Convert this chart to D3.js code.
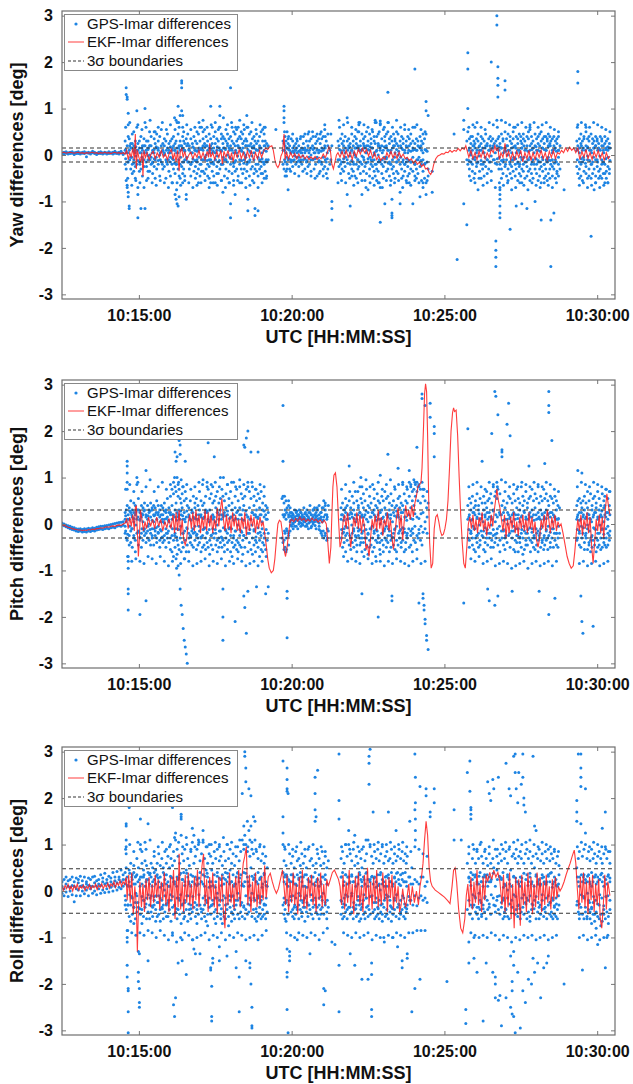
<!DOCTYPE html>
<html>
<head>
<meta charset="utf-8">
<script src="https://cdn.jsdelivr.net/npm/d3@7"></script>
<style>
  body { margin: 0; background: #fff; }
  svg { display: block; }
</style>
</head>
<body>
<svg id="chart"></svg>
<script>
// time is seconds after 10:00:00 UTC
const timeTicks = [900, 1200, 1500, 1800];
const timeLabels = ["10:15:00", "10:20:00", "10:25:00", "10:30:00"];
const yTicks = [-3, -2, -1, 0, 1, 2, 3];
const axisLabels = ["Yaw differences [deg]", "Pitch differences [deg]", "Roll differences [deg]"];
const legendLabels = ["GPS-Imar differences", "EKF-Imar differences", "3σ boundaries"];
const sigmaBounds = [0.15, 0.3, 0.48];

// GPS-Imar: each entry is [time, value, value, ...]
const gpsYaw = [
[749,.05,.03],[753,.06,.02],[757,.04,.07],[761,.05,.02],[765,.06,.03],[769,.04,.07],[773,.05,.01],[777,.06,.03],[781,.03,.07],[785,.05,.02],[789,.06,.04],[793,.03,.07],[797,.05,-.04],[801,.04,.06],[805,.02,.05],[809,.05,.08],[813,.03,.06],[817,.04,.01],[821,.06,.03],[825,.03,.07],[829,.05,.02],[833,.04,.06],[837,.05,.02],[841,.03,.07],[845,.05,.04],[849,.06,.02],[853,.04,.08],[857,.05,.03],[861,.02,.06],[865,.05,.08],[869,.04,.01],
[873,.3,-.2,.1],[875,1.45,1.3,-.55,.05,-.3],[877,1.25,1.2,-.65,-.7,.2],[879,.9,.65,-.8,-.9,-.15,.4],[881,-1.1,-1.15,.35,.1],[884,.15,-.3,-.05,.25],[887,.25,-.2,.45,-.4],[890,-.35,.1,-.1,.2],[893,.3,-.25,.05,-.5],[896,.95,.6,.1,-.2],[898,-1.35,-.85,-.7,.25],[901,.15,-.15,.3,-.35],[904,-1.15,.05,-.3,.4],[907,.2,-.1,-.45,.1],[910,.35,-.25,.05],[912,1.0,.7,-1.15,.2],[915,.05,-.25,-.55,.3],[918,.3,-.1,.15,-.35],[921,.5,-.35,0,.2],[924,-.2,.2,.4,-.05],[927,.1,-.4,-.15],[930,.35,.05,-.25],[932,.5,-.1,.25,-.5],[935,.15,-.3,.45],[938,-.2,.1,.3],[941,.4,-.45,0],[944,.2,-.15,.55],[947,-.3,.1,.25],[950,.05,-.25,.35],[953,.3,-.5,-.1],[956,-.2,.15,.45],[959,.1,-.35,.25],[962,-.15,.3,-.45,.05],[965,.35,-.2,.1,-.6],[968,.4,-.3,.2,-.1],[971,.55,.25,-.85,-.4,.1],[973,.75,-.95,.3,-.2],[975,.7,-1.05,-.6,.15],[977,1.05,.45,-1.1,-.3,.05],[979,.6,-.9,.2,-.45],[981,.85,.3,-.5,.1,-.2],[984,1.6,1.55,1.45,.95,-.25,.2],[986,.85,.4,-.4,.15,-.6],[988,.5,-.15,.3,-.3],[990,.25,-.45,.1],[993,-.85,-.95,.35,-.1],[996,-.15,.25,.45],[999,.1,-.3,.2],[1002,.35,-.2,-.45],[1005,.05,.25,-.15],[1008,.4,-.35,.15],[1011,.3,-.25,-.5,.1],[1014,.25,.5,-.1,-.4],[1017,.45,-.3,.1,-.6],[1020,.3,-.2,.6,-.45],[1023,.6,-.35,.15,-.1],[1026,.35,-.35,.2,.5],[1029,.55,-.1,-.4,.25],[1032,.2,-.3,.4,0],[1035,.3,-.45,.1,-.2],[1038,.45,-.25,.15,-.5],[1041,1.05,.2,-.6,.35,-.1],[1044,.6,-.35,.25,.05],[1047,.4,-.2,.15,-.45],[1050,.25,-.6,.5,-.1],[1053,.35,-.25,.1,-.4],[1056,.3,-.15,.55,-.4],[1059,1.05,.85,.6,-.3,.1],[1062,.45,.1,-.55,.35,-.2],[1065,.4,-.2,-.8,.25],[1068,.35,-.45,.15,-.1],[1071,.55,-.1,.3,-.3],[1074,.25,-.5,.45,0],[1077,.15,-.35,.35,-.6],[1080,1.45,.4,-1.05,-1.35,-.2,.2],[1083,.6,.3,-.4,.1],[1086,.25,-.25,.5,-.55],[1089,.45,-.15,-.85,.2,-.35],[1092,.3,.55,-.3,.05],[1095,.6,.2,-.45,.35],[1098,.15,-.2,.4,-.6],[1101,.35,-.3,.5,.1],[1104,.25,-.4,.15,.45],[1107,.55,-.1,-.3,.3],[1110,.2,-.5,.35,0],[1112,.85,.3,-.2,.6,-.35],[1114,-1.2,-.95,.2,-.15],[1117,.45,-.15,.2,-.45],[1120,.25,-.3,.5,.05],[1123,.35,-.25,.15,-.55],[1126,.2,-.4,.4,.05],[1128,-1.15,-1.3,.3,-.3],[1131,.25,-.35,.1,.45],[1134,-1.2,.3,-.2,-.45],[1137,.4,-.1,.2,-.3],[1140,.5,-.25,.15,-.4],[1143,.55,-.4,.3,-.15],[1146,.45,-.2,.1,-.5],[1148,.6,-.35,.2,.3],[1151,.25,-.15,-.45],[1154,.2,-.1],
[1169,.55],[1183,.3,-.2,.1],[1185,1.05,.95,.8,.7,.25,-.3],[1187,.4,-.15,.2,-.45],[1189,.3,-.35,.05],[1191,.5,-.2,.15,-.3],[1193,-.75,.25,-.1,.35],[1196,.2,-.3,.1],[1199,.35,-.15,.05],[1202,.15,-.25,.3],[1205,-.1,.2,.05],[1208,.25,-.2,.1],[1211,.05,-.15,.3],[1214,.2,-.05,-.25],[1217,.1,.35,-.15],[1220,-.2,.15,.05],[1223,.25,-.1,.4],[1226,.05,-.3,.15],[1229,.3,-.15,.1],[1232,-.25,.2,.45],[1235,.1,-.2,.3],[1238,.35,-.35,0],[1241,.2,-.1,.5],[1244,-.3,.15,.05],[1247,.4,-.2,.25],[1250,.1,-.45,.3],[1253,.35,-.15,.05],[1256,.25,-.35,.45],[1259,.15,-.2,.35],[1262,.4,-.3,.1],[1265,.65,.55,-.25,.2],[1268,.3,-.15,-.4],[1271,.2,-.3,.45],[1275,.1,-.2],[1277,.45,-.1],[1279,-1.0,-1.15,-1.4,.2],
[1291,-.6,.3,-.1],[1293,.75,.2,-.25],[1296,.35,-.2,.1,-.4],[1299,.25,-.3,.45],[1302,.1,-.15,.3,-.35],[1305,.4,-.25,.05],[1309,.8,-.85,.3,-.1],[1312,.2,-.4,.15,.35],[1315,-1.1,.25,-.2,.05],[1318,.45,-.3,.1,-.45],[1321,.3,-.15,.2,-.35],[1324,.15,-.45,.4,0],[1327,.35,-.2,.25,-.5],[1330,.5,-.1,.15,-.3],[1332,.65,.5,.7,-.25,.1],[1335,.3,-.4,.2,-.15],[1338,-.85,.45,-.2,.1],[1341,.25,-.35,.35,-.05],[1344,.4,-.25,.15,-.55],[1347,.2,-.4,.5,.05],[1350,-.75,.3,-.15,.2],[1353,.45,-.3,.1,-.45],[1356,.35,-.2,.25,-.1],[1359,.5,-.5,.15,-.25],[1362,.3,-.35,.4,0],[1364,.75,.7,-.2,.25,-.45],[1367,.4,-.3,.1,-.55],[1370,.25,-.15,.45,-.35],[1372,.5,-.6,.2,-.1],[1374,.73,.68,-1.45,-.7,.15],[1377,.35,-.4,.2,-.2],[1380,.55,-.25,.1,-.5],[1383,-1.05,.3,-.15,.4],[1386,.45,-.35,.2,-.05],[1389,1.35,.7,.5,-.3,.1],[1392,.35,-.45,.25,-.15],[1395,.4,-.2,.1,-.55],[1397,-1.25,-1.3,-1.35,-.95,.3,-.3],[1400,.45,-.25,.2,-.4],[1403,.3,-.5,.05,.35],[1406,.5,-.15,.25,-.35],[1409,.2,-.4,.45,0],[1413,-.8,-1.05,.3,-.2],[1416,.4,-.3,.15,-.5],[1419,.25,-.45,.35,-.1],[1422,.55,-.2,.1,-.35],[1425,.3,-.55,.2,-.15],[1428,.4,-.25,.05,-.45],[1431,.35,-.4,.2,-.6],[1434,.25,-.3,.45,-.15],[1438,-1.05,.3,-.35,.1],[1442,1.85,.6,-.2,.25,-.45],[1445,.35,-.5,.1,-.3],[1448,.2,-.4,.3,-.1],[1452,-.9,.4,-.25,.15],[1455,.3,-.55,.1,-.2],[1458,.25,-.35,.45,-.6],[1461,.35,-.2,-.5],[1464,1.15,.95,.45,-.85,-.6,.1],[1468,.85,-.3,-.45],[1476,-.8,-.35],
[1519,.45],[1525,-2.25],[1538,.55,.75,-1.05],
[1544,-1.5,.3,-.1],[1546,2.2,1.85,1.0,.5,-.2],[1549,.35,-.3,.15,-.45],[1552,.25,-.15,.4,0],[1555,.4,-.35,.1,-.2],[1558,.3,-.5,.2],[1560,.6,-.1,.25,-.4],[1563,.35,-.25,.05],[1566,-.75,.3,-.15,.45],[1569,.2,-.35,.1],[1572,.4,-.2,.25,-.5],[1575,.15,-.3,.35],[1578,.3,-.45,.05,-.15],[1581,.45,-.25,.2],[1584,.25,-.1,-.4],[1587,.35,-.3,.1],[1590,.2,-.15,.4],[1592,2.0,.3,-.35],[1595,.15,.35],[1598,.25,-.1],[1601,-1.85,-2.05,-2.2,-2.4,.3],[1603,3.0,2.8,.75,.2,-.2],[1605,1.9,1.65,1.5,1.25,.35],[1607,.4,.1,-.3],[1609,-.75,-.85,-1.1,-1.25,-1.35,-.95,-.7,.25,-.2],[1612,.45,-.3,.15,-.5],[1615,.3,-.15,.35,-.4],[1619,1.6,1.4,.5,-.25,.1],[1622,.35,-.45,.2,-.1],[1625,.45,-.3,.1,-.55],[1629,-1.6,.3,-.2,.4,-.4],[1632,.25,-.5,.15,-.25],[1635,.5,-.35,.35,-.1],[1639,.6,-.2,.2,-.45],[1641,-1.1,.4,-.3,.05],[1644,.35,-.55,.25,-.15],[1647,.45,-.25,.1,-.4],[1650,.3,-.45,.4,-.05],[1652,-1.05,.25,-.3,.15,-.6],[1655,.45,-.2,.35,-.35],[1658,.3,-.5,.1,-.15],[1662,-1.15,.4,-.25,.2,-.45],[1665,.35,-.35,.5,-.1],[1668,.6,.55,-.3,.1,-.55],[1671,.4,-.2,.25,-.4],[1674,.3,-.5,.15,-.1],[1678,-1.0,.45,-.3,.2],[1681,.35,-.4,.1,-.2],[1684,.25,-.55,.4,-.15],[1687,.45,-.3,.2,-.45],[1690,.5,-1.4,.3,-.25,-.6],[1693,.35,-.35,.15,-.1],[1696,.25,-.5,.4,-.2],[1699,.4,-.3,.1,-.45],[1702,.3,-.15,.35,-.55],[1704,.45,-.4,.2,-.1],[1707,.25,-.3,.4,-.5],[1709,-2.4,-1.4,.3,-.2],[1712,.35,-.45,.1,-.25],[1715,-1.25,.4,-.3,.2],[1718,.3,-.5,.15,-.1],[1721,.25,-.35,.35,-.4],[1724,.4,-.2,.1,-.45],[1727,.2,-.3],[1735,-.75],
[1760,.3,-.25,.1],[1762,1.8,1.55,.65,-.4,.2],[1765,.35,-.3,.15,-.5],[1768,.45,-.2,.25,-.45],[1771,.3,-.55,.1,-.15],[1774,.4,-.35,.35,-.1],[1778,.6,.5,-.4,.2,-.25],[1781,.35,-.5,.15,-.1],[1784,.3,-.3,.4,-.45],[1788,.45,-1.75,-.2,.1,-.5],[1791,.35,-.4,.25,-.15],[1794,-.75,.3,-.3,.15],[1797,.4,-.45,.2,-.6],[1800,.3,-.25,.35,-.1],[1803,.25,-.5,.15,-.35],[1806,.4,-.3,.1,-.45],[1809,.35,-.2,.3,-.5],[1812,.2,-.4,.1,-.15],[1815,.4,-.6,-.4,.25,-.2],[1818,.3,-.35,.15,-.5],[1821,.35,-.25,.1,-.6],[1824,.25,-.3,.15,-.4]
];

// extra GPS-Imar samples in the dense band near zero
const gpsYawCore = [
[874,.12,-.08,.6],[878,-.15,.05,-.5],[882,.2,-.1,.7],[886,-.05,.15,-.65],[890,.08,-.18,.5],[894,.18,-.02,-.55],[898,-.12,.1,.65],[902,.05,-.2,-.6],[906,.15,-.05,.55],[910,-.1,.2,-.7],[914,.1,-.15,.6],[918,-.02,.12,-.5],[922,.2,-.1,.75],[926,-.18,.05,-.6],[930,.12,-.08,.5],[934,-.05,.18,-.65],[938,.15,-.12,.6],[942,-.1,.05,-.55],[946,.08,-.2,.7],[950,.2,0,-.6],[954,-.15,.1,.55],[958,.05,-.1,-.7],[962,.18,-.05,.65],[966,-.08,.15,-.6],[970,.1,-.18,.8],[974,-.2,.05,-.75],[978,.15,-.1,.7],[982,-.05,.2,-.65],[986,.12,-.15,.6],[990,-.1,.08,-.55],[994,.2,-.05,.65],[998,-.15,.12,-.6],[1002,.05,-.2,.55],[1006,.18,-.08,-.7],[1010,-.12,.1,.6],[1014,.08,-.15,-.65],[1018,.15,-.05,.7],[1022,-.2,.12,-.6],[1026,.1,-.1,.75],[1030,-.05,.18,-.55],[1034,.2,-.12,.6],[1038,-.1,.05,-.7],[1042,.12,-.18,.65],[1046,-.15,.08,-.6],[1050,.05,-.1,.7],[1054,.18,-.02,-.65],[1058,-.12,.15,.6],[1062,.08,-.2,-.55],[1066,.15,-.05,.8],[1070,-.1,.12,-.7],[1074,.2,-.15,.65],[1078,-.05,.1,-.6],[1082,.12,-.08,.7],[1086,-.18,.05,-.65],[1090,.1,-.12,.6],[1094,-.02,.2,-.55],[1098,.15,-.1,.75],[1102,-.12,.08,-.6],[1106,.05,-.18,.65],[1110,.2,-.05,-.7],[1114,-.15,.12,.6],[1118,.08,-.1,-.65],[1122,.18,-.02,.7],[1126,-.1,.15,-.6],[1130,.12,-.2,.55],[1134,-.05,.1,-.7],[1138,.15,-.12,.65],[1142,-.08,.05,-.6],[1146,.2,-.15,.6],[1150,-.1,.08,-.5],
[1186,.1,-.1,.5],[1190,-.05,.15,-.45],[1194,.12,-.08,.4],[1198,-.1,.05,-.35],[1202,.08,-.12,.45],[1206,-.02,.1,-.4],[1210,.15,-.05,.35],[1214,-.12,.08,-.45],[1218,.05,-.1,.4],[1222,.12,-.02,-.35],[1226,-.08,.1,.45],[1230,.1,-.12,-.4],[1234,-.05,.05,.5],[1238,.15,-.1,-.45],[1242,-.1,.12,.4],[1246,.05,-.08,-.5],[1250,.12,-.05,.45],[1254,-.12,.1,-.4],[1258,.08,-.15,.5],[1262,-.05,.12,-.45],[1266,.15,-.1,.4],[1270,-.08,.05,-.5],
[1294,.12,-.1,.6],[1298,-.15,.05,-.55],[1302,.2,-.08,.65],[1306,-.05,.15,-.6],[1310,.1,-.18,.7],[1314,.18,-.02,-.5],[1318,-.12,.1,.6],[1322,.05,-.2,-.65],[1326,.15,-.05,.55],[1330,-.1,.2,-.6],[1334,.1,-.15,.7],[1338,-.02,.12,-.55],[1342,.2,-.1,.65],[1346,-.18,.05,-.7],[1350,.12,-.08,.6],[1354,-.05,.18,-.6],[1358,.15,-.12,.55],[1362,-.1,.05,-.65],[1366,.08,-.2,.7],[1370,.2,0,-.6],[1374,-.15,.1,.65],[1378,.05,-.1,-.7],[1382,.18,-.05,.6],[1386,-.08,.15,-.55],[1390,.1,-.18,.7],[1394,-.2,.05,-.65],[1398,.15,-.1,.6],[1402,-.05,.2,-.6],[1406,.12,-.15,.75],[1410,-.1,.08,-.55],[1414,.2,-.05,.6],[1418,-.15,.12,-.7],[1422,.05,-.2,.65],[1426,.18,-.08,-.6],[1430,-.12,.1,.55],[1434,.08,-.15,-.65],[1438,.15,-.05,.6],[1442,-.2,.12,-.55],[1446,.1,-.1,.65],[1450,-.05,.18,-.6],[1454,.2,-.12,.55],[1458,-.1,.05,-.7],[1462,.12,-.18,.5],[1466,-.15,.08,-.55],
[1548,.1,-.12,.6],[1552,-.15,.05,-.55],[1556,.2,-.08,.65],[1560,-.05,.15,-.6],[1564,.1,-.18,.7],[1568,.18,-.02,-.5],[1572,-.12,.1,.6],[1576,.05,-.2,-.65],[1580,.15,-.05,.55],[1584,-.1,.2,-.6],[1588,.1,-.15,.7],[1592,-.02,.12,-.55],[1596,.2,-.1,.65],[1600,-.18,.05,-.7],[1604,.12,-.08,.6],[1608,-.05,.18,-.6],[1612,.15,-.12,.75],[1616,-.1,.05,-.65],[1620,.08,-.2,.7],[1624,.2,0,-.6],[1628,-.15,.1,.65],[1632,.05,-.1,-.75],[1636,.18,-.05,.6],[1640,-.08,.15,-.7],[1644,.1,-.18,.65],[1648,-.2,.05,-.6],[1652,.15,-.1,.7],[1656,-.05,.2,-.65],[1660,.12,-.15,.6],[1664,-.1,.08,-.75],[1668,.2,-.05,.65],[1672,-.15,.12,-.6],[1676,.05,-.2,.7],[1680,.18,-.08,-.65],[1684,-.12,.1,.6],[1688,.08,-.15,-.7],[1692,.15,-.05,.65],[1696,-.2,.12,-.6],[1700,.1,-.1,.7],[1704,-.05,.18,-.65],[1708,.2,-.12,.6],[1712,-.1,.05,-.7],[1716,.12,-.18,.55],[1720,-.15,.08,-.6],[1724,.1,-.05,.5],
[1761,.12,-.1,.6],[1765,-.15,.05,-.65],[1769,.2,-.08,.7],[1773,-.05,.15,-.6],[1777,.1,-.18,.65],[1781,.18,-.02,-.7],[1785,-.12,.1,.6],[1789,.05,-.2,-.65],[1793,.15,-.05,.7],[1797,-.1,.2,-.6],[1801,.1,-.15,.65],[1805,-.02,.12,-.7],[1809,.2,-.1,.6],[1813,-.18,.05,-.65],[1817,.12,-.08,.55],[1821,-.05,.18,-.6],[1825,.15,-.12,.5]
];

// EKF-Imar: flat list of time, value pairs
const ekfYaw = [
749,.05,753,.06,757,.04,761,.05,765,.06,769,.05,773,.04,777,.05,781,.06,785,.04,789,.05,793,.03,797,.05,801,.04,805,.05,809,.06,813,.04,817,.05,821,.03,825,.05,829,.04,833,.06,837,.04,841,.05,845,.03,849,.05,853,.06,857,.04,861,.05,865,.03,869,.05,873,.02,
876,.1,879,-.1,882,.05,885,-.05,888,.15,891,-.1,893,.45,895,-.3,897,.1,900,-.05,903,-.15,906,.05,908,-.45,910,.1,913,-.05,916,.05,920,-.1,924,.02,928,.08,932,-.08,936,.05,940,-.05,944,.1,948,-.05,952,.02,956,-.1,960,.05,964,.12,967,-.1,970,.05,973,-.15,976,.1,979,-.35,981,.05,984,.15,987,-.05,990,.08,994,-.1,998,0,1002,.06,1006,-.08,1010,.04,1014,-.05,1018,.1,1022,-.08,1026,.05,1030,-.1,1034,.08,1037,-.05,1039,.25,1041,-.05,1045,.05,1049,-.1,1053,.08,1057,-.05,1061,.1,1064,-.2,1067,.08,1071,-.05,1075,.1,1079,-.1,1082,.05,1085,-.15,1089,.08,1093,-.05,1097,.12,1101,-.08,1105,.05,1109,-.1,1113,.08,1117,-.05,1121,.1,1125,-.12,1129,.05,1133,-.08,1137,.1,1141,-.05,1145,.08,1149,.15,1153,.12,1157,.18,1161,.2,1164,.1,1167,-.1,1170,-.22,1173,-.27,1176,-.2,1179,-.02,1182,.05,1185,.45,1187,-.1,
1190,.05,1194,-.08,1198,.05,1202,-.05,1206,.03,1210,-.08,1214,.02,1218,-.06,1222,0,1226,-.08,1230,-.02,1234,-.1,1238,-.04,1242,-.09,1246,-.03,1250,-.1,1254,-.05,1258,-.08,1262,.02,1266,-.06,1270,.05,1273,.18,1276,.1,1279,-.2,1282,-.3,1285,-.15,1288,0,1291,.05,
1295,-.05,1299,.08,1303,-.06,1307,.1,1311,-.05,1315,.06,1319,-.1,1323,.08,1327,-.03,1331,.12,1335,.02,1339,.15,1343,.05,1347,.12,1351,-.02,1355,.1,1359,-.06,1363,.05,1367,-.1,1371,-.02,1375,-.12,1379,-.05,1383,-.1,1387,.05,1391,-.05,1395,.08,1399,-.06,1403,.05,1407,-.08,1411,.06,1415,-.05,1419,.02,1423,-.08,1427,-.05,1431,-.12,1435,-.08,1439,-.18,1443,-.12,1447,-.2,1451,-.15,1455,-.25,1459,-.2,1463,-.3,1467,-.28,1470,-.38,1473,-.42,1476,-.35,1479,-.2,
1483,-.08,1487,-.02,1491,0,1495,.03,1499,.02,1503,.06,1507,.05,1511,.1,1515,.06,1519,.1,1523,.08,1527,.14,1531,.09,1535,.15,1539,.12,1542,.2,1545,.08,
1548,-.05,1552,.1,1556,-.08,1560,.05,1564,-.1,1568,.08,1572,-.05,1576,.1,1580,-.08,1584,.05,1588,-.05,1592,.12,1596,.05,1599,.2,1602,.1,1605,.15,1608,-.1,1611,.05,1615,-.05,1619,.25,1622,-.05,1626,.08,1630,-.1,1634,.05,1638,-.12,1642,.08,1646,-.05,1650,.1,1654,-.15,1658,.05,1662,-.08,1666,.1,1670,-.12,1674,.05,1678,-.1,1682,.08,1686,-.05,1690,.1,1694,-.08,1698,.05,1702,-.12,1706,.08,1710,-.05,1714,.1,1718,-.08,1722,.05,1726,.02,
1730,.1,1734,.05,1738,.15,1742,.08,1746,.17,1750,.1,1754,.15,1758,.05,
1762,.15,1766,-.1,1770,.08,1774,-.05,1778,.12,1782,-.08,1786,.05,1790,-.1,1794,.08,1798,-.05,1802,.1,1806,-.08,1810,.05,1814,-.12,1818,.05,1822,-.08,1825,-.02
];

const gpsPitch = [
[749,-.02,.02],[753,-.04,0],[757,-.06,-.02],[761,-.08,-.04],[765,-.1,-.05],[769,-.12,-.07],[773,-.13,-.08],[777,-.15,-.1],[781,-.16,-.11],[785,-.15,-.1],[789,-.17,-.12],[793,-.16,-.1],[797,-.17,-.11],[801,-.15,-.09],[805,-.16,-.1],[809,-.14,-.08],[813,-.15,-.09],[817,-.13,-.07],[821,-.12,-.06],[825,-.11,-.05],[829,-.12,-.05],[833,-.1,-.04],[837,-.09,-.03],[841,-.1,-.02],[845,-.08,-.01],[849,-.07,0],[853,-.08,.01],[857,-.05,.02],[861,-.04,.03],[865,-.05,.04],[869,-.02,.05],
[873,.25,-.2,.1,-.05],[875,.3,-.3,.05],[877,1.35,1.25,1.1,.9,.75,.4,-.35],[879,-1.4,-1.5,-1.85,-.8,-.95,-.7,.2],[881,.35,-.25,.1,-.45],[884,.5,-.15,.25,-.4],[887,.3,-.5,.15,-.1],[890,.45,-.3,.05,.25],[893,.2,-.35,.4,-.6],[896,1.0,.85,.3,-.2,.1],[899,.55,-.45,-.15,.3],[902,-1.95,.25,-.3,.1],[905,.4,-.2,.15,-.5],[908,.35,-.35,.05,.2],[911,.3,-.25,.45,-.1],[914,1.15,-1.65,.2,-.4],[917,.4,-.15,.1,-.3],[920,.25,-.35,.3,0],[923,.45,-.2,.15,-.45],[926,.3,-.3,.35,-.1],[929,.2,-.45,.05,.4],[932,.35,-.25,.2,-.15],[935,.5,-.3,.1,-.4],[938,.25,-.2,.4,-.05],[941,.3,-.35,.15,-.5],[944,.4,-.15,.2,-.3],[947,.2,-.4,.35,.05],[950,.45,-.25,.1,-.35],[953,.3,-.5,.25,-.1],[956,.55,-.2,.15,-.3],[959,.35,-.4,.05,.25],[962,.6,-.3,.2,-.55],[965,.75,-.6,.4,-.25,.1],[968,.9,.65,-.7,-.35,.2],[971,1.55,.8,-.5,.3,-.2],[973,1.35,.7,-.75,.45,-.1],[975,1.45,1.0,-.65,.25,-.35],[977,.85,.6,-.9,.15,-.45],[979,1.8,.75,-1.1,-.55,.3],[981,1.7,1.5,.55,-1.4,-.3,.1],[983,.95,.45,-1.75,-.6,.2],[985,.65,-1.95,-.4,.35],[987,.8,-2.25,-.5,.1,-.2],[989,.5,-2.5,-.75,.25],[991,1.35,.7,-2.65,-.35,.05],[993,.55,-2.8,-.6,.15],[995,.4,-3.0,-.45,-.1],[998,.35,-.3,.2,-.6],[1001,.5,-.25,.1,-.4],[1004,.3,-.45,.25,-.15],[1007,.6,-.2,.15,-.5],[1010,.45,-.35,.35,-.05],[1013,.55,-.55,.2,-.25],[1016,.4,-.3,.1,-.45],[1019,.7,-.4,.3,-.15],[1022,.5,-.6,.2,-.3],[1025,.85,-.25,.4,-.5],[1028,.45,-.45,.15,-.1],[1031,.6,-.3,.3,-.55],[1034,.9,-.4,.25,-.2],[1036,1.75,.75,-.5,.1],[1039,.55,-.35,.3,-.65],[1042,.65,-.25,.15,-.45],[1045,.8,.45,-.55,.2,-.1],[1048,1.45,.5,-.3,.15],[1051,.6,-.45,.35,-.2],[1054,.7,-.6,.25,-.35],[1057,.45,-.3,.1,-.5],[1060,1.0,.55,-.4,.3,-.15],[1063,.75,-.5,.2,-.3],[1065,.6,-1.4,-2.0,-2.5,-.35,.15],[1068,.5,-.45,.25,-.6],[1071,.65,-.3,.35,-.15],[1074,.85,-.55,.2,-.4],[1077,.55,-.35,.4,-.1],[1080,.7,-.6,.15,-.25],[1083,.45,-.4,.3,-.7],[1086,.9,-.3,.2,-.5],[1089,.6,-2.1,-.45,.35,-.15],[1092,.75,-.55,.25,-.35],[1095,.5,-.4,.1,-.6],[1098,.8,-.25,.35,-.45],[1101,.65,-.5,.2,-.15],[1104,.55,-.65,.3,-.35],[1106,1.7,-1.55,.4,-.25],[1108,1.65,-1.8,.6,-.5],[1111,1.85,.75,-2.35,-.3,.2],[1114,2.0,.9,-1.45,-.6,.15],[1117,.7,-.4,.35,-.2],[1120,1.55,.55,-.55,.1],[1123,.8,-.3,.25,-.65],[1126,.6,-.45,.4,-.15],[1129,.75,-.6,.2,-.35],[1131,.5,-1.35,-.4,.3],[1134,1.55,.65,-.5,.15,-.2],[1137,.55,-.35,.35,-.7],[1140,.7,-.55,.2,-.25],[1143,.45,-.4,.3,-.6],[1146,.6,-.3,.15,-.45],[1149,.4,-1.5,-.55,.2],[1152,.35,-.35,.1],[1154,-1.35,.25,-.2],
[1181,.55,-.3],[1183,2.55,1.35,.6,-.4,.2],[1185,.45,-.35,.15,-.55],[1187,.3,-.5,.2,-.2],[1189,.5,-.3,.1,-.6],[1191,-1.45,-1.6,-2.45,.35,-.15],[1194,.4,-.25,.2,-.45],[1197,.25,.05,-.15,.35],[1200,.15,-.05,.25],[1203,.2,0,.1,-.1],[1206,.15,.05,.3],[1209,.25,-.05,.1],[1212,.1,.2,-.1],[1215,.3,.05,.15],[1218,.15,-.05,.25],[1221,.2,.1,0],[1224,.35,.05,.15],[1227,.1,.25,-.05],[1230,.2,0,.3],[1233,.15,.1,-.1],[1236,.25,.05,.4],[1239,.1,-.05,.2],[1242,.3,.15,0],[1245,.2,.05,.35],[1248,.15,-.1,.25],[1251,.3,.1,.05],[1254,.2,-.05,.4],[1257,.1,.25,-.15],[1260,.35,.05,-.25],[1263,.15,.5,-.3],[1266,.3,-.2,.45],[1269,.2,-.35,.1],[1272,.4,-.15],
[1297,.35,-.3,.1],[1300,.45,-.2,.2,-.5],[1303,.3,-.4,.15,-.1],[1306,.55,-.25,.35,-.6],[1309,.4,-.35,.1,-.2],[1313,1.25,.5,-.45,.2],[1316,.35,-.3,.25,-.55],[1319,.6,-.2,.15,-.4],[1322,.45,-.5,.3,-.1],[1325,.7,-.35,.2,-.25],[1328,.5,-.6,.1,-.45],[1331,.35,-.25,.4,-.15],[1334,.8,-.45,.25,-.3],[1336,1.0,.55,-.4,.15],[1338,-1.5,.45,-.3,.2,-.6],[1341,.65,-.4,.35,-.15],[1344,.5,-.55,.2,-.3],[1347,.75,-.3,.1,-.45],[1350,.4,-.65,.25,-.2],[1353,.6,-.35,.35,-.5],[1356,.45,-.45,.15,-.1],[1359,.85,-.3,.25,-.6],[1362,.55,-.5,.3,-.2],[1365,.4,-.7,.15,-.35],[1368,.65,-.4,.35,-.15],[1370,-2.0,.5,-.3,.2],[1373,.45,-.55,.25,-.4],[1374,1.05,-.65,.1],[1377,.6,-.35,.3,-.2],[1380,.5,-.45,.15,-.6],[1383,.7,-.3,.35,-.1],[1386,.55,-.5,.2,-.35],[1389,1.5,.6,-.4,.15,-.25],[1392,.45,-.6,.3,-.15],[1395,.65,-.35,.2,-.5],[1397,-1.55,-1.65,.4,-.3],[1400,.5,-.45,.25,-.2],[1403,.75,-.55,.35,-.1],[1406,.4,-.35,.15,-.6],[1409,1.2,.55,-.45,.2],[1412,.6,-.3,.35,-.15],[1415,.45,-.5,.25,-.4],[1418,.85,-.35,.4,-.2],[1421,.65,-.6,.3,-.1],[1424,.5,-.4,.15,-.55],[1427,.75,-.3,.45,-.2],[1431,1.15,.9,-.5,.6],[1434,.8,-.45,.35,-.25],[1437,.7,-.6,.5,-.1],[1440,.95,-.35,.75,.4],[1443,.85,-.4,.6],[1446,1.65,.9,-.55,.7],[1448,.8,-.3,.5],[1450,-1.7,.85,-.2],[1453,.75,.45,-.35],[1456,2.8,2.7,.9,-.45],[1458,-1.5,-1.6,.6],[1460,-1.75,-1.85,.75],[1462,2.55,-2.05,-2.15,.5],[1465,-2.4,-2.5,.35],[1468,-2.7,.45],[1472,2.6,2.3],[1480,2.1,1.95,1.45],
[1538,-1.7],[1546,2.05,.4,-.3,.1],[1549,.55,-.35,.2,-.5],[1552,.45,-.2,.3,-.15],[1555,.6,-.45,.1,-.3],[1558,.35,-.55,.25,-.1],[1561,.5,-.3,.4,-.6],[1564,.65,-.25,.15,-.4],[1567,.4,-.5,.3,-.2],[1570,.55,-.35,.1,-.45],[1574,1.35,.45,-.25,.2],[1577,.6,-.55,.3,-.15],[1580,.45,-.4,.15,-.6],[1583,.7,-.3,.35,-.2],[1585,-1.4,.5,-.45,.1],[1588,.55,-1.65,-.3,.25],[1591,.65,-.5,.15,-.2],[1593,1.95,.45,-.35,.1],[1596,.8,-.25,.3,-.5],[1599,2.85,.6,-1.75,-.4],[1601,2.75,.7,-.3,.2],[1603,.9,.55,-.2],[1605,2.35,.75,-1.55,-.45],[1609,.65,-.35,.2,-.6],[1613,1.55,1.45,1.6,.4,-.3],[1616,.5,-.45,.25,-.15],[1619,.7,-.3,.35,-.55],[1623,2.15,.45,-.4,.1],[1626,2.6,.6,-.25,.2],[1629,1.9,.55,-.5,.15],[1633,-1.45,.45,-.3,.2],[1636,.65,-.55,.25,-.15],[1639,.5,-.35,.1,-.6],[1642,.75,-.25,.35,-.4],[1645,.55,-.6,.2,-.1],[1648,.45,-.4,.3,-.3],[1651,.8,-.5,.15,-.2],[1654,.6,-.3,.4,-.65],[1657,.5,-.55,.25,-.15],[1660,.7,-.35,.1,-.45],[1663,.45,-.45,.35,-.2],[1666,1.25,.55,-.3,.2],[1669,.6,-.6,.15,-.35],[1672,.75,-.4,.3,-.1],[1675,.5,-.5,.2,-.3],[1678,.65,-.3,.35,-.55],[1681,.55,-.45,.1,-.2],[1684,.8,-.35,.25,-.6],[1686,-1.45,.45,-.25,.15],[1689,.6,-.5,.3,-.1],[1692,.5,-.4,.2,-.35],[1695,.75,-.3,.1,-.55],[1697,1.3,.55,-.45,.25],[1700,.65,-.35,.3,-.15],[1703,.5,-.55,.2,-.3],[1705,2.85,2.4,2.55,-1.95,.4,-.25],[1708,.6,-.4,.15,-.5],[1711,1.8,.55,-.3,.25],[1714,.45,-.5,.2,-.1],[1717,-1.6,.6,-.35,.15],[1720,.5,-.45,.3,-.2],[1723,.4,-.3,.1,-.5],[1726,.35,-.2],
[1760,.4,-.35,.1],[1762,1.15,.5,-.3,.2],[1765,.55,-.45,.25,-.15],[1768,-1.55,.45,-.5,.1],[1770,1.1,-2.1,.35,-.3],[1772,-2.35,.5,-.2,.15],[1775,.6,-.4,.3,-.55],[1778,.45,-.3,.15,-.2],[1781,.7,-.55,.35,-.1],[1784,.5,-.45,.2,-.4],[1787,.65,-.35,.1,-.6],[1790,.4,-.5,.3,-.25],[1792,-2.2,.55,-.35,.15],[1795,.6,-.45,.25,-.1],[1798,.45,-.6,.35,-.3],[1801,.7,-.35,.1,-.5],[1804,.55,-.45,.3,-.2],[1807,.4,-.3,.2,-.55],[1810,.65,-.5,.15,-.1],[1813,.5,-.4,.35,-.3],[1815,.6,.4,-.45,.2],[1818,.75,-.3,.25,-.5],[1821,.55,-.45,.1,-.2],[1824,.7,-.35,.4,-.25]
];

const gpsPitchCore = [
[874,.18,-.15,.75],[878,-.22,.1,-.7],[882,.28,-.05,.85],[886,-.1,.2,-.8],[890,.12,-.25,.7],[894,.25,-.02,-.75],[898,-.18,.15,.9],[902,.08,-.28,-.8],[906,.22,-.1,.7],[910,-.15,.28,-.85],[914,.15,-.2,.8],[918,-.05,.18,-.7],[922,.28,-.12,.95],[926,-.25,.08,-.75],[930,.18,-.1,.7],[934,-.08,.25,-.85],[938,.2,-.18,.8],[942,-.12,.05,-.7],[946,.1,-.28,.9],[950,.28,.02,-.8],[954,-.2,.12,.75],[958,.08,-.15,-.9],[962,.25,-.05,.85],[966,-.1,.2,-.8],[970,.15,-.25,1.0],[974,-.28,.08,-.95],[978,.2,-.12,.9],[982,-.05,.28,-.85],[986,.18,-.2,.8],[990,-.15,.1,-.75],[994,.28,-.08,.85],[998,-.2,.15,-.8],[1002,.08,-.28,.75],[1006,.25,-.1,-.9],[1010,-.18,.12,.8],[1014,.1,-.22,-.85],[1018,.2,-.05,.9],[1022,-.28,.15,-.8],[1026,.12,-.12,.95],[1030,-.08,.25,-.75],[1034,.28,-.18,.8],[1038,-.12,.05,-.9],[1042,.15,-.25,.85],[1046,-.2,.1,-.8],[1050,.05,-.12,.9],[1054,.25,-.02,-.85],[1058,-.15,.2,.8],[1062,.1,-.28,-.75],[1066,.2,-.08,1.0],[1070,-.12,.18,-.9],[1074,.28,-.2,.85],[1078,-.08,.12,-.8],[1082,.15,-.1,.9],[1086,-.25,.08,-.85],[1090,.12,-.15,.8],[1094,-.02,.28,-.75],[1098,.2,-.12,.95],[1102,-.18,.1,-.8],[1106,.08,-.25,.85],[1110,.28,-.08,-.9],[1114,-.2,.15,.8],[1118,.1,-.12,-.85],[1122,.25,-.02,.9],[1126,-.12,.2,-.8],[1130,.15,-.28,.75],[1134,-.08,.12,-.9],[1138,.2,-.18,.85],[1142,-.1,.05,-.8],[1146,.28,-.2,.8],[1150,-.12,.1,-.7],
[1186,.2,-.15,.6],[1190,-.1,.25,-.55],[1194,.15,-.2,.5],[1198,.08,.18,-.02],[1202,.12,.02,.22],[1206,.05,.15,-.05],[1210,.18,.08,.28],[1214,0,.12,.2],[1218,.1,.25,.02],[1222,.15,-.02,.08],[1226,.22,.05,.12],[1230,.08,.18,-.05],[1234,.12,.02,.25],[1238,.2,.06,-.08],[1242,.05,.15,.3],[1246,.1,-.03,.2],[1250,.18,.08,.35],[1254,.02,.12,-.12],[1258,.15,.25,-.2],[1262,.08,-.15,.35],[1266,.2,-.25,.4],[1270,-.1,.15,-.3],
[1298,.2,-.12,.75],[1302,-.18,.08,-.7],[1306,.25,-.05,.85],[1310,-.08,.2,-.8],[1314,.12,-.25,.7],[1318,.22,-.02,-.75],[1322,-.15,.12,.9],[1326,.05,-.28,-.8],[1330,.2,-.08,.7],[1334,-.12,.25,-.85],[1338,.15,-.2,.8],[1342,-.02,.15,-.7],[1346,.28,-.12,.95],[1350,-.22,.05,-.75],[1354,.15,-.1,.8],[1358,-.05,.25,-.85],[1362,.2,-.15,.75],[1366,-.12,.08,-.8],[1370,.1,-.25,.9],[1374,.25,0,-.8],[1378,-.2,.12,.75],[1382,.05,-.15,-.9],[1386,.22,-.05,.85],[1390,-.1,.2,-.8],[1394,.12,-.25,.95],[1398,-.28,.05,-.85],[1402,.18,-.12,.8],[1406,-.05,.28,-.75],[1410,.15,-.2,.85],[1414,-.12,.1,-.8],[1418,.25,-.08,.9],[1422,-.18,.15,-.85],[1426,.08,-.25,.8],[1430,.2,-.1,-.9],[1434,-.15,.12,.85],[1438,.1,-.2,-.8],[1442,.22,-.05,.9],[1446,-.25,.15,-.75],[1450,.12,-.12,.8],[1454,-.05,.22,-.85],[1458,.25,-.18,.75],[1462,-.1,.05,-.8],[1466,.15,-.2,.7],
[1548,.15,-.12,.8],[1552,-.2,.08,-.75],[1556,.25,-.05,.85],[1560,-.1,.2,-.8],[1564,.12,-.25,.9],[1568,.22,-.02,-.7],[1572,-.15,.12,.8],[1576,.05,-.28,-.85],[1580,.2,-.08,.75],[1584,-.12,.25,-.8],[1588,.15,-.2,.9],[1592,-.02,.15,-.75],[1596,.28,-.12,.85],[1600,-.22,.05,-.9],[1604,.15,-.1,.8],[1608,-.05,.25,-.85],[1612,.2,-.15,.95],[1616,-.12,.08,-.8],[1620,.1,-.25,.9],[1624,.25,0,-.85],[1628,-.2,.12,.8],[1632,.05,-.15,-.95],[1636,.22,-.05,.85],[1640,-.1,.2,-.9],[1644,.12,-.25,.8],[1648,-.28,.05,-.85],[1652,.18,-.12,.9],[1656,-.05,.28,-.8],[1660,.15,-.2,.85],[1664,-.12,.1,-.95],[1668,.25,-.08,.8],[1672,-.18,.15,-.85],[1676,.08,-.25,.9],[1680,.2,-.1,-.8],[1684,-.15,.12,.85],[1688,.1,-.2,-.9],[1692,.22,-.05,.8],[1696,-.25,.15,-.85],[1700,.12,-.12,.9],[1704,-.05,.22,-.8],[1708,.25,-.18,.85],[1712,-.1,.05,-.9],[1716,.15,-.2,.75],[1720,-.2,.1,-.8],[1724,.12,-.05,.7],
[1761,.15,-.12,.8],[1765,-.2,.08,-.85],[1769,.25,-.05,.9],[1773,-.08,.2,-.8],[1777,.12,-.25,.85],[1781,.22,-.02,-.9],[1785,-.15,.12,.8],[1789,.05,-.28,-.85],[1793,.2,-.08,.9],[1797,-.12,.25,-.8],[1801,.15,-.2,.85],[1805,-.02,.15,-.9],[1809,.28,-.12,.8],[1813,-.22,.05,-.85],[1817,.15,-.1,.75],[1821,-.05,.25,-.8],[1825,.2,-.15,.7]
];

const ekfPitch = [
749,-.02,753,-.03,757,-.05,761,-.07,765,-.08,769,-.1,773,-.11,777,-.12,781,-.13,785,-.13,789,-.14,793,-.13,797,-.14,801,-.12,805,-.13,809,-.11,813,-.12,817,-.1,821,-.1,825,-.08,829,-.09,833,-.07,837,-.06,841,-.07,845,-.05,849,-.04,853,-.05,857,-.03,861,-.02,865,-.03,869,0,873,.02,
876,.1,879,-.1,882,.15,885,-.05,888,.2,891,-.15,893,.35,895,.4,897,-.2,899,-.7,901,-.3,903,.3,906,.1,909,-.15,912,.05,915,-.1,919,.15,923,-.05,927,.1,931,-.1,935,.15,939,-.05,943,.1,947,-.15,951,.05,955,-.08,959,.12,963,-.1,967,.2,970,-.2,973,.25,976,-.15,979,.3,982,-.25,985,.1,988,-.35,991,-.45,994,-.3,997,.05,1000,.2,1003,-.1,1006,.25,1009,-.15,1012,.3,1015,-.05,1018,.2,1021,-.2,1024,.15,1027,-.1,1030,.3,1033,-.15,1036,.25,1039,-.05,1042,.2,1045,-.2,1048,.1,1051,-.1,1054,.35,1057,-.05,1060,.3,1063,.55,1066,.1,1069,-.15,1072,.2,1075,-.1,1078,.15,1081,-.2,1084,.25,1087,-.05,1090,.2,1093,-.15,1096,.1,1099,-.2,1102,.15,1105,-.1,1108,.25,1111,-.25,1114,.1,1117,-.15,1120,.2,1123,-.05,1126,.15,1129,-.2,1132,.1,1135,-.1,1138,.15,1141,-.05,1144,.05,1147,-.2,
1150,-.45,1153,-.75,1156,-.95,1160,-1.05,1164,-1.0,1167,-.75,1170,-.35,1173,0,1176,.08,1179,.05,1182,-.2,1185,-.55,1188,-.7,1191,-.5,1194,-.2,1197,.05,
1200,.1,1204,.05,1208,.12,1212,.06,1216,.15,1220,.08,1224,.12,1228,.05,1232,.1,1236,.06,1240,.13,1244,.07,1248,.1,1252,.04,1256,.09,1260,.02,1264,.08,1268,0,
1271,-.4,1274,-.85,1277,-.5,1279,.2,1281,.8,1283,1.05,1286,1.1,1289,.8,1292,.1,1295,-.5,1298,-.35,1301,.05,
1304,.2,1307,-.1,1310,.25,1313,-.15,1316,-.5,1319,-.2,1322,.15,1325,-.05,1328,.25,1331,-.1,1334,.2,1337,-.2,1340,.15,1343,-.05,1346,-.55,1349,-.45,1352,-.7,1355,-.3,1358,.1,1361,-.1,1364,.2,1367,-.15,1370,.3,1373,-.1,1376,.15,1379,-.25,1382,.1,1385,-.05,1388,.25,1391,-.15,1394,.1,1397,-.3,1400,-.55,1403,-.2,1406,.15,1409,.35,1412,-.1,1415,.2,1418,-.35,1421,.05,1424,.4,1427,.15,1430,.3,1433,.1,1436,.4,1439,.15,1442,.45,1445,.6,1448,.8,1451,.85,1454,.9,1456,1.2,1459,2.1,1461,2.8,1463,3.02,1465,2.85,1467,1.9,1469,.6,1471,-.4,1474,-.95,1477,-.85,1480,-.1,1483,.15,1486,.2,1489,.05,1492,-.15,1495,-.25,1498,-.22,1501,-.1,1504,.1,1507,.5,1510,1.2,1513,2.0,1516,2.4,1518,2.5,1520,2.42,1523,2.45,1526,1.9,1529,1.0,1532,.2,1535,-.4,1538,-.85,1541,-.95,1544,-.5,1547,0,
1550,.15,1553,-.1,1556,.2,1559,-.15,1562,.1,1565,-.2,1568,.15,1571,-.05,1574,.25,1577,-.15,1580,.1,1583,-.25,1586,.05,1589,-.1,1592,.2,1595,-.05,1598,.3,1601,.55,1603,.75,1606,.5,1609,.35,1612,.1,1615,-.15,1618,.2,1621,-.3,1624,.1,1627,-.2,1630,.15,1633,-.1,1636,.25,1639,-.2,1642,.05,1645,-.25,1648,.15,1651,-.1,1654,.2,1657,-.15,1660,.1,1663,-.2,1666,.25,1669,-.1,1672,.15,1675,-.2,1678,.05,1681,-.35,1684,-.5,1687,-.3,1690,.1,1693,-.1,1696,.2,1699,-.15,1702,.3,1705,.1,1708,-.2,1711,.15,1714,-.1,1717,.2,1720,-.15,1723,.05,1726,-.05,
1729,0,1733,-.2,1737,-.45,1741,-.7,1745,-.85,1749,-.95,1753,-.9,1756,-.6,1759,-.2,1762,.1,
1765,-.15,1768,.2,1771,-.25,1774,.1,1777,-.1,1780,.25,1783,-.2,1786,.15,1789,-.45,1792,-.85,1795,-.4,1798,.1,1801,-.15,1804,.2,1807,-.2,1810,.15,1813,-.3,1816,.3,1819,.65,1822,.4,1825,.2
];

const gpsRoll = [
[749,.2,-.05,.1],[753,.05,.25,-.1],[757,.15,-.02,.3],[761,.1,-.12,.22],[765,.25,0,.08],[769,.12,-.08,.3],[773,.2,-.23,.1],[777,.05,.28,-.1],[781,.18,.02,.25],[785,.1,-.1,.32],[789,.22,0,.12],[793,.08,.3,-.06],[797,.2,.02,.15],[801,.12,-.1,.28],[805,.25,.05,.1],[809,.1,.3,-.05],[813,.18,0,.32],[817,.1,.22,-.08],[821,.25,.05,.15],[825,.12,.35,-.05],[829,.2,.02,.28],[833,.15,.38,-.03],[837,.25,.05,.18],[841,.12,.32,-.02],[845,.28,.08,.2],[849,.15,.4,0],[853,.3,.1,.22],[857,.18,.42,.02],[861,.3,.08,.25],[865,.2,.45,.05],[869,.35,.1,.25],
[873,.4,-.3,.15,-.1],[875,1.45,1.4,1.1,.95,.8,.5,-.4],[877,-.85,-1.0,-1.1,-1.6,-1.85,.3],[879,-2.1,-2.15,-2.6,-3.05,.1,-.3],[881,1.8,.45,-.55,.2],[884,.6,-.3,.1,-.65],[887,.35,-.5,.25,-.15],[890,.55,-.35,.4,-.7],[893,.3,-.6,.15,-.25],[896,.7,-.45,.35,-.1],[899,-1.3,-1.75,-1.95,.5,-.35],[901,-2.1,-2.4,-2.5,-1.35,.25],[903,1.55,1.0,.9,-.5,.3],[906,.6,-.4,.15,-.7],[909,.45,-.55,.3,-.2],[912,1.05,.65,-.35,.1],[915,.55,-.6,.25,-.15],[918,1.45,-1.5,.4,-.45],[921,.35,-.3,.15,-.6],[924,.6,-.45,.3,-.1],[927,.5,-.55,.2,-.35],[930,.75,-.3,.4,-.2],[933,.45,-.65,.15,-.4],[936,.6,-.25,.35,-.55],[939,.8,-.5,.2,-.1],[942,.55,-.4,.3,-.65],[945,.7,-.35,.15,-.2],[948,.5,-.6,.4,-.3],[951,.85,-.45,.25,-.1],[954,.6,-.3,.35,-.55],[957,.75,-.55,.2,-.25],[960,.95,.5,-.4,.1],[963,.7,-.65,.3,-.2],[966,1.8,2.15,.55,-.9,-.35],[968,.85,-2.45,-.5,.2],[970,-2.7,.65,-.3,.15],[972,1.25,1.1,-2.3,-.45],[975,.9,-.6,.3,-.15],[977,.75,-1.55,-.4,.25],[980,.6,-.5,.35,-.2],[983,1.65,1.6,1.55,1.2,-.7],[985,.8,-1.05,-1.5,.25,-.3],[988,.65,-.45,.4,-.6],[990,.9,-.55,.2,-.25],[993,1.15,-1.8,.45,-.4],[996,.7,-.65,.3,-.1],[999,.55,-.4,.15,-.5],[1002,.85,-.3,.35,-.6],[1005,1.35,1.05,-1.05,-.45,.2],[1008,1.2,.6,-1.25,-.35],[1011,.75,-1.35,-.55,.3],[1014,.9,-.4,.25,-.7],[1017,1.0,1.1,-.5,.15],[1020,.65,-1.35,-.3,.4],[1023,.8,-.6,.2,-.45],[1026,1.3,1.05,-.4,.35],[1029,.7,-.55,.1,-.3],[1032,.95,-.65,.45,-.2],[1035,.6,-.5,.3,-.75],[1038,1.0,.8,-.35,.2],[1041,.75,-1.65,-1.7,-.5,.1],[1043,-2.05,-2.7,-2.8,.45,-.3],[1045,-1.55,-1.45,.6,-.2],[1048,.85,-.6,.35,-.45],[1051,.7,-.4,.2,-.7],[1054,.9,-.55,.4,-.15],[1058,1.0,.65,-1.2,-1.5,-.3],[1061,.75,-.5,.25,-.6],[1064,.55,-.7,.35,-.2],[1067,.85,-.45,.15,-.55],[1070,.65,-.6,.4,-.3],[1073,1.0,-1.4,-.4,.2],[1076,.7,-.55,.3,-.75],[1079,.9,-.35,.45,-.2],[1082,.6,-.65,.2,-.45],[1085,.8,-.5,.35,-.1],[1088,.55,-.4,.15,-.6],[1091,.75,-1.65,-1.3,-.3,.3],[1094,.95,-.5,.4,-.2],[1097,.65,-1.85,-2.6,-.6,.2],[1100,.85,-.45,.35,-.3],[1103,2.1,1.1,-.55,.15],[1106,1.4,.9,-.35,.4],[1108,3.0,2.9,1.2,-.6,.2],[1110,2.65,2.35,1.0,-1.5,-.4],[1113,1.5,.85,-.5,.3],[1116,2.2,1.3,-.45,.1],[1118,1.1,.75,-1.55,-1.65,-.3],[1120,2.05,1.4,-2.0,.5,-.2],[1122,.9,-2.5,-2.9,-2.95,-.55],[1125,1.6,.8,-.4,.25],[1128,1.1,1.5,-.6,.35,-.2],[1131,.85,-.45,.2,-.65],[1134,.7,-.55,.4,-.15],[1137,.95,-.35,.25,-.5],[1140,.65,-.6,.3,-.2],[1143,.8,-.4,.15,-.55],[1146,.6,-.5,.35,-.3],[1149,.75,-.3,.2,-.6],[1152,.5,-.45,.1],
[1183,2.8,1.6,1.25,1.0,.4,-.3],[1185,.65,-.5,.2,-.15],[1187,.9,-.4,.35,-.6],[1189,.55,-.65,.15,-.25],[1191,2.65,2.4,2.2,2.15,-1.25,-1.75,-1.85,-2.55,.3],[1193,2.1,-3.05,-.5,.1],[1196,.8,-1.3,-1.4,-1.5,.2],[1199,.6,-.45,.35,-.2],[1202,.75,-.55,.2,-.4],[1205,.5,-.35,.3,-.6],[1208,.85,-.5,.15,-.15],[1211,.65,-1.05,-.4,.35],[1214,.7,-.6,.25,-.3],[1217,.55,-.4,.4,-.1],[1220,.8,-.55,.2,-.45],[1223,.6,-.35,.3,-.2],[1226,.75,-.65,.1,-.35],[1229,.5,-.45,.35,-.1],[1232,.9,-.3,.25,-.55],[1236,.65,-1.35,-.4,.2],[1239,.7,-.5,.3,-.2],[1242,.55,-.6,.15,-.35],[1246,2.45,2.1,1.75,1.5,.4,-.3],[1248,1.6,.6,-.45,.2],[1251,2.6,.8,-.5,.25],[1254,.7,-.6,.35,-.15],[1257,.55,-.4,.2,-.5],[1260,.85,-.35,.3,-.2],[1263,.6,-2.1,-2.45,-.5],[1266,.75,-2.15,-.3,.25],[1269,.5,-.45,.15,-.6],[1272,.65,-.35],
[1279,-1.1],[1285,-1.15],[1293,2.95,1.95,1.55,-2.6,-1.6],[1297,.7,-.5,.3,-.2],[1300,.85,-.35,.4,-.6],[1303,.6,-.55,.2,-.15],[1306,1.0,-.45,.35,-.3],[1309,.75,-.6,.15,-.4],[1312,1.3,1.0,-.35,.3],[1315,.8,-1.35,-.5,.2],[1318,.65,-.45,.35,-.1],[1321,.9,-.6,.2,-.35],[1324,1.2,.55,-1.6,-.4],[1327,.75,-.3,.3,-.55],[1330,.6,-.5,.15,-.2],[1333,.85,-.65,.4,-.3],[1336,.7,-.4,.25,-.6],[1338,-1.9,.5,-.35,.1],[1341,.95,-.5,.3,-.2],[1344,.65,-.6,.15,-.45],[1347,.8,-.35,.4,-.15],[1350,1.1,-1.9,-.55,.25],[1352,2.9,2.75,2.3,-.4],[1354,3.05,1.0,-.5,.2],[1357,.75,-1.55,-2.55,-2.7,-1.8,.3],[1360,1.7,.6,-.45,.15],[1363,.85,-.4,.3,-.6],[1366,.7,-.55,.2,-.25],[1369,.9,-.35,.35,-.5],[1372,.65,-.6,.15,-.2],[1375,.8,-.45,.4,-.3],[1378,1.0,-.5,.25,-.65],[1381,.6,-1.0,-.35,.2],[1384,.75,-.55,.3,-.15],[1387,.85,-.4,.1,-.5],[1390,1.7,.65,-.6,.35],[1393,.7,-.45,.2,-.2],[1396,.9,-.65,.4,-.35],[1399,.6,-1.0,-.5,.15],[1402,.8,-.4,.3,-.2],[1405,1.3,.65,-.55,.2],[1408,.75,-1.2,-.35,.4],[1411,.9,-.6,.15,-.3],[1414,.7,-.45,.35,-.5],[1417,.85,-1.5,-1.65,-.4,.25],[1420,.65,-.55,.2,-.15],[1423,.8,-.35,.4,-.6],[1425,.6,-.45,.2],[1427,.75,-1.45,-1.35,-.3],[1432,1.5,.3,-.2],[1436,-2.6,.5],[1442,2.95,1.75,-2.1],[1443,2.45,1.9,1.55,1.3,1.1],[1452,2.25,-1.9],[1464,2.2,2.05],[1472,1.6,1.7],[1480,2.2,1.9],
[1505,-1.95],[1519,1.75,1.1],[1533,1.1],
[1542,-2.85,-2.55],[1545,2.55,.6,-.4],[1548,.8,-1.55,-1.1,.3],[1550,2.8,2.15,-.5,.2],[1552,1.8,1.75,1.65,1.55,.4],[1555,.7,-.35,.25,-.6],[1558,.9,-1.0,-1.45,-.3],[1561,.6,-.45,.35,-.15],[1564,.85,-1.75,-.5,.2],[1567,.7,-.6,.15,-.35],[1570,1.0,-.4,.4,-.2],[1573,.75,-.55,.2,-.5],[1576,.6,-2.8,-.3,.3],[1579,.85,-.45,.35,-.15],[1582,.7,-1.55,-.6,.2],[1585,2.35,.55,-.4,.1],[1588,2.1,.8,-.35,.3],[1591,1.95,.6,-.5,.2],[1595,2.4,-1.75,.7],[1597,2.2,.5,-.3],[1600,.9,-2.3,-2.0,-1.85,-.45],[1603,.75,.45,-.2],[1606,2.45,-2.35,.6,-.4],[1609,.8,-2.25,-.5,.3],[1612,.65,-2.9,-.35,.25],[1615,.9,-.6,.4,-.2],[1618,.7,-.45,.15,-.55],[1621,2.75,.85,-2.3,-.4],[1624,.6,-.55,.3,-.15],[1627,2.2,.9,-.6,.25],[1630,2.05,-2.5,-1.4,.45],[1633,.75,-2.15,-2.65,-1.95,-.35],[1636,2.9,.8,-2.7,-1.6,-1.3,.3],[1639,2.95,2.55,.7,-3.05,-.5],[1641,2.2,.9,-.4,.2],[1644,1.9,-1.75,.6,-.55],[1646,2.55,.75,-.3,.15],[1649,.85,-2.95,-.6,.3],[1651,2.3,.7,-.45,.2],[1654,2.95,2.45,-2.15,-.35],[1656,2.0,1.85,.6,-.5],[1659,1.7,.8,-2.4,-.25],[1662,.9,-.6,.35,-.15],[1665,.7,-1.9,-.45,.2],[1668,.85,-.55,.3,-.65],[1671,.6,-2.0,-.4,.15],[1674,2.9,.75,-1.45,-.3],[1677,1.4,-1.75,.5,-.2],[1680,1.3,.8,-.6,.35],[1683,.7,-1.55,-.45,.2],[1686,.9,-.35,.25,-.6],[1689,.65,-2.3,-.5,.15],[1692,.8,-.4,.35,-.2],[1695,.6,-1.65,-.55,.3],[1698,.85,-.35,.15,-.45],[1701,.7,-1.55,-.6,.2],[1704,.9,-1.4,-.3,.35],[1707,.65,-.5,.2,-.25],[1710,.8,-.45,.4,-.55],[1713,.7,-.6,.15,-.2],[1716,.85,-.35,.3,-.5],[1719,.6,-.55,.25,-.15],[1722,.75,-.4,.1,-.6],[1725,.55,-.3,.35],[1735,-2.0],
[1760,1.95,1.7,1.5,.5,-.3],[1763,2.95,.7,-.45,.2],[1765,.85,-.5,.3,-.6],[1768,2.95,2.65,2.45,2.25,1.45,-.35],[1771,.75,-1.7,-.5,.2],[1774,.9,-.6,.35,-.15],[1777,2.2,1.25,-.45,.25],[1780,.7,-.55,.2,-.6],[1783,.85,-.4,.35,-.2],[1786,.65,-.6,.15,-.45],[1789,.9,-.35,.4,-.7],[1792,.7,-.5,.2,-.25],[1795,.8,-.65,.3,-.5],[1798,.6,-.45,.15,-.8],[1801,.75,-1.15,-.55,.3],[1804,.85,-.6,.25,-.3],[1807,.7,-.75,.35,-.5],[1810,1.35,.6,-.65,.2],[1813,.8,-.5,.3,-.4],[1816,1.7,.95,-1.65,-.6],[1819,.7,-1.0,-.45,.15],[1822,.85,-.55,.35,-.7],[1825,.6,-.4,.2]
];

const gpsRollCore = [
[874,.25,-.2,.9],[878,-.3,.12,-.85],[882,.38,-.08,1.0],[886,-.12,.3,-.9],[890,.15,-.35,.85],[894,.32,-.05,-.95],[898,-.25,.2,1.05],[902,.1,-.38,-.9],[906,.3,-.12,.85],[910,-.2,.35,-.95],[914,.2,-.28,.9],[918,-.08,.25,-.85],[922,.38,-.15,1.1],[926,-.32,.1,-.9],[930,.25,-.12,.85],[934,-.1,.32,-1.0],[938,.28,-.25,.95],[942,-.15,.08,-.85],[946,.12,-.38,1.05],[950,.35,.02,-.95],[954,-.28,.15,.9],[958,.1,-.2,-1.05],[962,.32,-.08,1.0],[966,-.12,.28,-.95],[970,.2,-.32,1.15],[974,-.38,.1,-1.1],[978,.28,-.15,1.05],[982,-.08,.38,-1.0],[986,.25,-.28,.95],[990,-.2,.12,-.9],[994,.38,-.1,1.0],[998,-.28,.2,-.95],[1002,.1,-.38,.9],[1006,.32,-.12,-1.05],[1010,-.25,.15,.95],[1014,.12,-.3,-1.0],[1018,.28,-.08,1.05],[1022,-.38,.2,-.95],[1026,.15,-.15,1.1],[1030,-.1,.32,-.9],[1034,.38,-.25,.95],[1038,-.15,.08,-1.05],[1042,.2,-.32,1.0],[1046,-.28,.12,-.95],[1050,.08,-.15,1.05],[1054,.32,-.05,-1.0],[1058,-.2,.28,.95],[1062,.12,-.38,-.9],[1066,.28,-.1,1.15],[1070,-.15,.25,-1.05],[1074,.38,-.28,1.0],[1078,-.1,.15,-.95],[1082,.2,-.12,1.05],[1086,-.32,.1,-1.0],[1090,.15,-.2,.95],[1094,-.05,.38,-.9],[1098,.28,-.15,1.1],[1102,-.25,.12,-.95],[1106,.1,-.32,1.0],[1110,.38,-.1,-1.05],[1114,-.28,.2,.95],[1118,.12,-.15,-1.0],[1122,.32,-.05,1.05],[1126,-.15,.28,-.95],[1130,.2,-.38,.9],[1134,-.1,.15,-1.05],[1138,.28,-.25,1.0],[1142,-.12,.08,-.95],[1146,.38,-.28,.95],[1150,-.15,.12,-.85],
[1186,.3,-.25,.95],[1190,-.2,.35,-.9],[1194,.25,-.3,1.0],[1198,-.12,.2,-.95],[1202,.35,-.1,.9],[1206,-.3,.15,-1.0],[1210,.12,-.35,.95],[1214,.28,-.05,-.9],[1218,-.2,.3,1.05],[1222,.1,-.25,-.95],[1226,.35,-.15,.9],[1230,-.25,.08,-1.0],[1234,.2,-.3,.95],[1238,-.08,.32,-.9],[1242,.3,-.2,1.0],[1246,-.15,.12,-.95],[1250,.25,-.35,.9],[1254,-.3,.1,-1.05],[1258,.15,-.12,.95],[1262,-.05,.3,-.9],[1266,.35,-.25,.85],[1270,-.2,.15,-.8],
[1298,.3,-.22,.95],[1302,-.28,.12,-.9],[1306,.35,-.08,1.0],[1310,-.12,.3,-.95],[1314,.18,-.35,.9],[1318,.32,-.05,-1.0],[1322,-.25,.2,1.05],[1326,.1,-.38,-.9],[1330,.3,-.12,.95],[1334,-.2,.35,-1.0],[1338,.2,-.28,.9],[1342,-.08,.25,-.95],[1346,.38,-.15,1.1],[1350,-.32,.1,-.9],[1354,.25,-.12,.95],[1358,-.1,.32,-1.05],[1362,.28,-.25,1.0],[1366,-.15,.08,-.95],[1370,.12,-.38,1.05],[1374,.35,.02,-1.0],[1378,-.28,.15,.95],[1382,.1,-.2,-1.1],[1386,.32,-.08,1.0],[1390,-.12,.28,-.95],[1394,.2,-.32,1.05],[1398,-.38,.1,-1.0],[1402,.28,-.15,.95],[1406,-.08,.38,-.9],[1410,.25,-.28,1.0],[1414,-.2,.12,-.95],[1418,.38,-.1,1.05],[1422,-.28,.2,-1.0],[1426,.1,-.38,.95],[1430,.3,-.12,-.9],[1434,-.2,.15,.85],[1438,.15,-.3,-.9],[1442,.25,-.1,.95],[1446,-.32,.2,-.85],[1450,.15,-.15,.9],[1454,-.1,.3,-.85],[1458,.3,-.2,.8],[1462,-.15,.1,-.85],[1466,.2,-.25,.75],
[1548,.28,-.2,.95],[1552,-.3,.12,-.9],[1556,.35,-.08,1.0],[1560,-.12,.3,-.95],[1564,.15,-.35,.9],[1568,.32,-.05,-1.0],[1572,-.25,.2,1.05],[1576,.1,-.38,-.95],[1580,.3,-.12,.9],[1584,-.2,.35,-1.0],[1588,.2,-.28,.95],[1592,-.08,.25,-.9],[1596,.38,-.15,1.1],[1600,-.32,.1,-.95],[1604,.25,-.12,.9],[1608,-.1,.32,-1.05],[1612,.28,-.25,1.0],[1616,-.15,.08,-.95],[1620,.12,-.38,1.05],[1624,.35,.02,-1.0],[1628,-.28,.15,.95],[1632,.1,-.2,-1.1],[1636,.32,-.08,1.05],[1640,-.12,.28,-1.0],[1644,.2,-.32,1.1],[1648,-.38,.1,-1.05],[1652,.28,-.15,1.0],[1656,-.08,.38,-.95],[1660,.25,-.28,1.05],[1664,-.2,.12,-1.0],[1668,.38,-.1,1.1],[1672,-.28,.2,-.95],[1676,.1,-.38,1.0],[1680,.32,-.12,-1.05],[1684,-.25,.15,.95],[1688,.12,-.3,-1.0],[1692,.28,-.08,1.05],[1696,-.38,.2,-.95],[1700,.15,-.15,1.0],[1704,-.1,.32,-1.05],[1708,.38,-.25,.95],[1712,-.15,.08,-1.0],[1716,.2,-.32,.9],[1720,-.28,.12,-.95],[1724,.15,-.1,.85],
[1761,.3,-.22,.95],[1765,-.28,.1,-1.0],[1769,.35,-.08,1.05],[1773,-.12,.3,-.95],[1777,.18,-.35,1.0],[1781,.32,-.05,-1.05],[1785,-.25,.2,.95],[1789,.1,-.38,-1.0],[1793,.3,-.12,1.05],[1797,-.2,.35,-.95],[1801,.2,-.28,1.0],[1805,-.08,.25,-1.05],[1809,.38,-.15,.95],[1813,-.32,.1,-1.0],[1817,.25,-.12,.9],[1821,-.1,.32,-.95],[1825,.28,-.2,.85]
];

const ekfRoll = [
749,.1,752,.02,755,.12,758,.05,761,.14,764,.03,767,.1,770,0,773,.12,776,.05,779,.15,782,.02,785,.1,788,.06,791,.13,794,.01,797,.1,800,.05,803,.14,806,.04,809,.11,812,.07,815,.15,818,.03,821,.12,824,.08,827,.16,830,.05,833,.13,836,.09,839,.17,842,.06,845,.15,848,.1,851,.2,854,.08,857,.18,860,.12,863,.22,866,.1,869,.2,872,.15,
875,.3,877,-.2,880,.35,883,-.25,886,.4,889,-.5,892,.1,895,-.3,897,-1.3,899,-.4,902,.2,905,-.35,908,.15,911,-.45,914,.25,917,-.2,920,.3,923,-.35,926,.15,929,-.25,932,.35,935,-.15,938,.25,941,-.4,944,.2,947,-.2,950,.4,953,-.3,956,.15,959,-.45,962,.3,965,-.2,968,.45,971,-.6,974,.3,977,-.35,979,.8,982,-.4,985,.2,988,-.45,991,.35,994,-.25,997,.4,1000,-.3,1003,.15,1006,-.4,1009,.3,1012,-.2,1015,.45,1018,-.35,1021,.2,1024,.55,1027,.8,1030,-.3,1033,.25,1036,-.45,1039,.3,1042,-.2,1045,.4,1048,-.35,1051,.15,1054,-.5,1057,.3,1060,-.25,1063,.35,1066,-.45,1069,-.8,1072,.2,1075,-.3,1078,.4,1081,-.25,1084,.15,1087,-.4,1090,.3,1093,-.2,1096,.45,1099,-.35,1102,.25,1105,.6,1108,.75,1111,.95,1114,-.3,1117,.35,1120,-.45,1123,.2,1126,-.25,1129,.4,1132,-.35,1135,.15,1138,-.3,1141,.3,1144,-.2,1147,.55,1150,-.15,
1154,.3,1158,.38,1162,.2,1166,.05,1170,-.05,1174,.05,1178,.25,1182,.45,1185,.1,
1188,-.3,1191,.35,1194,-.45,1197,.2,1200,-.25,1203,.4,1206,-.3,1209,.15,1212,-.5,1215,.3,1218,-.2,1221,.45,1224,-.35,1227,.1,1230,-.4,1233,.3,1236,-.15,1239,.35,1242,-.3,1245,.2,1248,-.45,1251,.3,1254,-.2,1257,.4,1260,-.35,1263,.15,1266,-.3,1269,.25,1272,.1,
1276,.25,1280,.4,1284,.45,1288,.35,1292,.25,1295,.1,
1298,-.3,1301,.35,1304,-.4,1307,.2,1310,-.25,1313,.45,1316,-.35,1319,.15,1322,-.5,1325,.3,1328,-.2,1331,.4,1334,-.3,1337,.1,1340,-.45,1343,.35,1346,-.15,1349,.5,1352,-.3,1355,.2,1358,-.4,1361,.3,1364,-.25,1367,.45,1370,-.35,1373,.15,1376,-.3,1379,.4,1382,-.2,1385,.25,1388,-.45,1391,.3,1394,-.15,1397,.35,1400,-.4,1403,.2,1406,-.25,1409,.1,1412,-.45,1415,-.3,1418,.05,1421,-.2,1424,-.35,1427,-.1,1430,.15,1433,-.3,1437,.1,1441,-.25,1445,0,1449,-.3,1452,.1,1455,.3,1458,.6,1461,1.1,1464,1.5,1467,1.2,1470,.5,1473,.2,1476,.1,
1482,.02,1488,-.03,1494,-.08,1500,-.13,1506,-.2,1511,-.27,1515,.1,1518,.45,1521,.5,1524,.2,1528,-.4,1532,-.8,1536,-.9,1540,-.6,1543,-.1,1546,.15,
1549,-.35,1552,.3,1555,-.4,1558,.2,1561,-.25,1564,.45,1567,-.3,1570,.15,1573,-.45,1576,.3,1579,-.2,1582,.35,1585,.2,1589,.4,1593,.25,1597,.45,1601,.3,1605,.4,1609,.2,1613,-.3,1616,.35,1619,-.45,1622,.2,1625,-.35,1628,.4,1631,-.6,1634,.15,1637,-.8,1640,.3,1643,-.5,1646,.25,1649,-.75,1652,.35,1655,-.3,1658,.2,1661,-.45,1664,.4,1667,-.25,1670,.3,1673,-.5,1676,.15,1679,-.35,1682,.4,1685,-.2,1688,.3,1691,-.45,1694,.2,1697,-.3,1700,.35,1703,-.25,1706,.1,1709,-.4,1712,.25,1715,-.2,1718,.3,1721,-.15,1724,.1,1727,0,
1731,.08,1735,.2,1739,.35,1743,.48,1747,.6,1751,.75,1755,.88,1758,.6,1761,.05,
1764,-.4,1767,.3,1770,-.25,1773,.4,1776,-.35,1779,.2,1782,-.5,1785,.3,1788,-.2,1791,.35,1794,-.45,1797,.15,1800,-.3,1803,.25,1806,-.6,1809,-.8,1812,-.3,1815,.35,1818,-.4,1821,.2,1825,-.1
];

const gpsSeries = [gpsYaw.concat(gpsYawCore), gpsPitch.concat(gpsPitchCore), gpsRoll.concat(gpsRollCore)];
const ekfSeries = [ekfYaw, ekfPitch, ekfRoll];

// layout
const width = 633, height = 1084;
const plotLeft = 62, plotRight = 615, plotHeight = 288;
const panelTops = [11, 380, 747];
const font = "'Liberation Sans', Arial, Helvetica, sans-serif";
const blue = "#1d84e3";
const red = "#ff1a1a";

const svg = d3.select("#chart").attr("width", width).attr("height", height);

const x = d3.scaleLinear().domain([749, 1835]).range([plotLeft, plotRight]);

const styleAxis = (sel) => {
  sel.select(".domain").remove();
  sel.selectAll(".tick line").attr("stroke", "#777");
  sel.selectAll(".tick text")
    .attr("font-family", font)
    .attr("font-size", 16)
    .attr("font-weight", "bold")
    .attr("fill", "#111");
};

axisLabels.forEach((label, i) => {
  const top = panelTops[i];
  const bottom = top + plotHeight;
  const y = d3.scaleLinear().domain([-3.1, 3.1]).range([bottom, top]);
  const g = svg.append("g");

  svg.append("clipPath").attr("id", `clip${i}`)
    .append("rect")
    .attr("x", plotLeft).attr("y", top)
    .attr("width", plotRight - plotLeft).attr("height", plotHeight);

  const plot = g.append("g").attr("clip-path", `url(#clip${i})`);

  const points = gpsSeries[i].flatMap((col) => col.slice(1).map((v) => [col[0], v]));
  plot.append("g")
    .selectAll("circle")
    .data(points)
    .join("circle")
    .attr("cx", (d) => x(d[0]))
    .attr("cy", (d) => y(d[1]))
    .attr("r", 1.5)
    .attr("fill", blue);

  const ekf = ekfSeries[i];
  const ekfPoints = d3.range(0, ekf.length, 2).map((k) => [ekf[k], ekf[k + 1]]);
  plot.append("path")
    .datum(ekfPoints)
    .attr("d", d3.line().x((d) => x(d[0])).y((d) => y(d[1])))
    .attr("fill", "none")
    .attr("stroke", red)
    .attr("stroke-width", 1.1)
    .attr("stroke-opacity", 0.85);

  [sigmaBounds[i], -sigmaBounds[i]].forEach((s) => {
    plot.append("line")
      .attr("x1", plotLeft).attr("x2", plotRight)
      .attr("y1", y(s)).attr("y2", y(s))
      .attr("stroke", "#333")
      .attr("stroke-width", 1.1)
      .attr("stroke-dasharray", "4,3");
  });

  g.append("g").attr("transform", `translate(${plotLeft},0)`)
    .call(d3.axisLeft(y).tickValues(yTicks).tickSizeInner(-4).tickSizeOuter(0).tickPadding(9)
      .tickFormat((d) => String(d)))
    .call(styleAxis);
  g.append("g").attr("transform", `translate(${plotRight},0)`)
    .call(d3.axisRight(y).tickValues(yTicks).tickSizeInner(-4).tickSizeOuter(0).tickFormat(""))
    .call(styleAxis);
  g.append("g").attr("transform", `translate(0,${bottom})`)
    .call(d3.axisBottom(x).tickValues(timeTicks).tickSizeInner(-4).tickSizeOuter(0).tickPadding(11)
      .tickFormat((d, k) => timeLabels[k]))
    .call(styleAxis);
  g.append("g").attr("transform", `translate(0,${top})`)
    .call(d3.axisTop(x).tickValues(timeTicks).tickSizeInner(-4).tickSizeOuter(0).tickFormat(""))
    .call(styleAxis);

  g.append("rect")
    .attr("x", plotLeft).attr("y", top)
    .attr("width", plotRight - plotLeft).attr("height", plotHeight)
    .attr("fill", "none")
    .attr("stroke", "#6e6e6e")
    .attr("stroke-width", 1.2);

  g.append("text")
    .attr("x", (plotLeft + plotRight) / 2)
    .attr("y", bottom + 44)
    .attr("text-anchor", "middle")
    .attr("font-family", font)
    .attr("font-size", 18)
    .attr("font-weight", "bold")
    .attr("fill", "#111")
    .text("UTC [HH:MM:SS]");

  g.append("text")
    .attr("transform", `translate(23,${top + plotHeight / 2}) rotate(-90)`)
    .attr("text-anchor", "middle")
    .attr("font-family", font)
    .attr("font-size", 18)
    .attr("font-weight", "bold")
    .attr("fill", "#111")
    .text(label);

  // legend
  const lg = g.append("g").attr("transform", `translate(64.5,${top + 3.5})`);
  lg.append("rect")
    .attr("width", 173).attr("height", 56)
    .attr("fill", "#fff")
    .attr("stroke", "#888");
  const rows = [9.5, 27.5, 46.5];
  lg.append("circle").attr("cx", 11.5).attr("cy", rows[0]).attr("r", 1.6).attr("fill", blue);
  lg.append("line").attr("x1", 3.5).attr("x2", 19.5).attr("y1", rows[1]).attr("y2", rows[1])
    .attr("stroke", red).attr("stroke-opacity", 0.7).attr("stroke-width", 1.2);
  lg.append("line").attr("x1", 3.5).attr("x2", 19.5).attr("y1", rows[2]).attr("y2", rows[2])
    .attr("stroke", "#333").attr("stroke-width", 1.1).attr("stroke-dasharray", "3,2");
  lg.selectAll("text.item")
    .data(legendLabels)
    .join("text")
    .attr("class", "item")
    .attr("x", 22.5)
    .attr("y", (d, k) => rows[k])
    .attr("dy", "0.36em")
    .attr("font-family", font)
    .attr("font-size", 15)
    .attr("fill", "#111")
    .text((d) => d);
});
</script>
</body>
</html>
